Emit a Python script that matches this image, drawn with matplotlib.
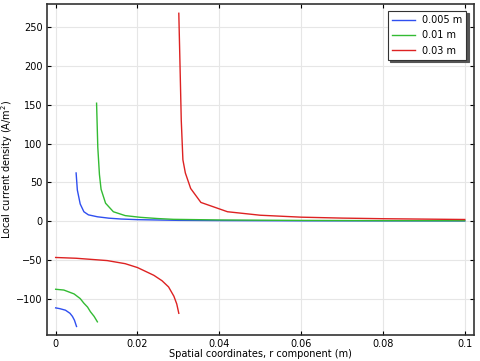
import matplotlib.pyplot as plt

# curvas arriba: zona fuera del electrodo (r > r_e)
r_out_005 = [0.0050, 0.0053, 0.0060, 0.0069, 0.0080, 0.0102, 0.0130, 0.0160, 0.0200, 0.0300, 0.0400, 0.0600, 0.0800, 0.1000]
j_out_005 = [62, 40, 22, 12, 8, 5.5, 3.7, 2.6, 1.8, 0.9, 0.6, 0.3, 0.2, 0.1]

r_out_01 = [0.0100, 0.0103, 0.0107, 0.0111, 0.0122, 0.0141, 0.0170, 0.0207, 0.0250, 0.0288, 0.0400, 0.0600, 0.0800, 0.1000]
j_out_01 = [152, 95, 60, 41, 23, 12, 7.0, 4.8, 3.2, 2.2, 1.4, 0.8, 0.5, 0.4]

r_out_03 = [0.0301, 0.0304, 0.0307, 0.0311, 0.0317, 0.0330, 0.0355, 0.0420, 0.0500, 0.0600, 0.0700, 0.0800, 0.0900, 0.1000]
j_out_03 = [268, 200, 130, 79, 62, 42, 24, 12, 7.5, 5.0, 3.8, 3.0, 2.5, 2.0]

# curvas abajo: sobre el electrodo (r < r_e)
r_in_005 = [0.0000, 0.0010, 0.0024, 0.0035, 0.0041, 0.0046, 0.0051]
j_in_005 = [-112, -113, -115, -119, -123, -128, -136]

r_in_01 = [0.0000, 0.0020, 0.0045, 0.0060, 0.0069, 0.0078, 0.0085, 0.0094, 0.0102]
j_in_01 = [-88, -89, -94, -100, -106, -111, -117, -123, -130]

r_in_03 = [0.0000, 0.0050, 0.0126, 0.0170, 0.0200, 0.0240, 0.0260, 0.0276, 0.0289, 0.0296, 0.0301]
j_in_03 = [-47, -48, -51, -55, -60, -70, -77, -85, -97, -107, -119]

etiquetas = ["0.005 m", "0.01 m", "0.03 m"]
colores = ["#2f4ff0", "#33bb33", "#dd2222"]

fig = plt.figure(figsize=(4.81, 3.61), dpi=100)
ax = fig.add_axes([0.097, 0.072, 0.888, 0.917])

series = [
    (r_out_005, j_out_005, r_in_005, j_in_005),
    (r_out_01, j_out_01, r_in_01, j_in_01),
    (r_out_03, j_out_03, r_in_03, j_in_03),
]
for (ro, jo, ri, ji), color, etiqueta in zip(series, colores, etiquetas):
    ax.plot(ro, jo, color=color, lw=1.0, label=etiqueta)
    ax.plot(ri, ji, color=color, lw=1.0)

ax.set_xlim(-0.0022, 0.1022)
ax.set_ylim(-147, 280)
ax.set_xticks([0, 0.02, 0.04, 0.06, 0.08, 0.1])
ax.set_xticklabels(["0", "0.02", "0.04", "0.06", "0.08", "0.1"])
ax.set_yticks([-100, -50, 0, 50, 100, 150, 200, 250])
ax.grid(True, color="#e6e6e6", lw=0.8)
ax.set_axisbelow(True)
ax.tick_params(direction="in", top=True, right=True, labelsize=7, length=3, pad=3)
for s in ax.spines.values():
    s.set_linewidth(1.2)
    s.set_color("#333333")

ax.set_xlabel("Spatial coordinates, r component (m)", fontsize=7, labelpad=0)
ax.set_ylabel("Local current density (A/m$^2$)", fontsize=7, labelpad=1)

leg = ax.legend(loc="upper right", fontsize=7, fancybox=False,
                shadow={"ox": 1.5, "oy": -1.5, "color": "#555555", "alpha": 1},
                framealpha=1, edgecolor="#333333", handlelength=2.3,
                borderaxespad=0.75, labelspacing=0.55)
leg.get_frame().set_linewidth(0.8)

plt.savefig("out.png", dpi=100)
